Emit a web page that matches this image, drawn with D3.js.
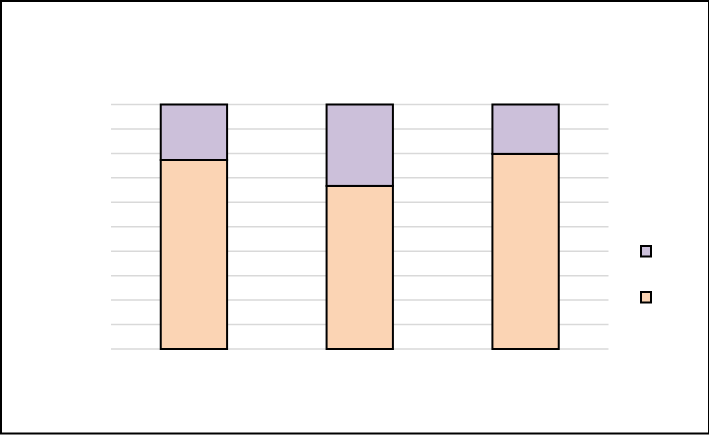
<!DOCTYPE html>
<html>
<head>
<meta charset="utf-8">
<script src="https://cdn.jsdelivr.net/npm/d3@7"></script>
<style>
html,body{margin:0;padding:0;background:#fff;}
svg{display:block;}
</style>
</head>
<body>
<svg id="chart" width="709" height="435"></svg>
<script>
const categories = ["A", "B", "C"];
const seriesNames = ["Series 1", "Series 2"];
const series1 = [77.3, 66.7, 79.8];
const series2 = [22.7, 33.3, 20.2];
const yTicks = [0, 10, 20, 30, 40, 50, 60, 70, 80, 90, 100];
const colors = ["#FBD4B4", "#CCC0DA"];

const svg = d3.select("#chart");
const W = 709, H = 435;
const plot = {left: 111, right: 608.5, top: 104.5, bottom: 349};

svg.append("rect").attr("x", 0).attr("y", 0).attr("width", W).attr("height", H).attr("fill", "#fff");

const x = d3.scaleBand().domain(categories).range([plot.left, plot.right]).paddingInner(0.6).paddingOuter(0.3);
const y = d3.scaleLinear().domain([0, 100]).range([plot.bottom, plot.top]);

// gridlines
svg.append("g").selectAll("line").data(yTicks).join("line")
  .attr("x1", plot.left).attr("x2", plot.right)
  .attr("y1", d => y(d)).attr("y2", d => y(d))
  .attr("stroke", "#d9d9d9").attr("stroke-width", 1.5);

const table = categories.map((c, i) => ({cat: c, s0: series1[i], s1: series2[i]}));
const stack = d3.stack().keys(["s0", "s1"])(table);

stack.forEach((layer, li) => {
  svg.append("g").selectAll("rect").data(layer).join("rect")
    .attr("x", d => x(d.data.cat))
    .attr("width", x.bandwidth())
    .attr("y", d => y(d[1]))
    .attr("height", d => y(d[0]) - y(d[1]))
    .attr("fill", colors[li])
    .attr("stroke", "#000").attr("stroke-width", 2);
});

// legend (markers only)
const legendItems = [{name: seriesNames[1], color: colors[1]}, {name: seriesNames[0], color: colors[0]}];
const lg = svg.append("g").attr("transform", "translate(641,246)");
lg.selectAll("rect").data(legendItems).join("rect")
  .attr("x", 0).attr("y", (d, i) => i * 46)
  .attr("width", 10).attr("height", 10.5)
  .attr("fill", d => d.color)
  .attr("stroke", "#000").attr("stroke-width", 2);

// outer border
svg.append("rect").attr("x", 1).attr("y", 1).attr("width", 708).attr("height", 432.5)
  .attr("fill", "none").attr("stroke", "#000").attr("stroke-width", 2);
</script>
</body>
</html>
